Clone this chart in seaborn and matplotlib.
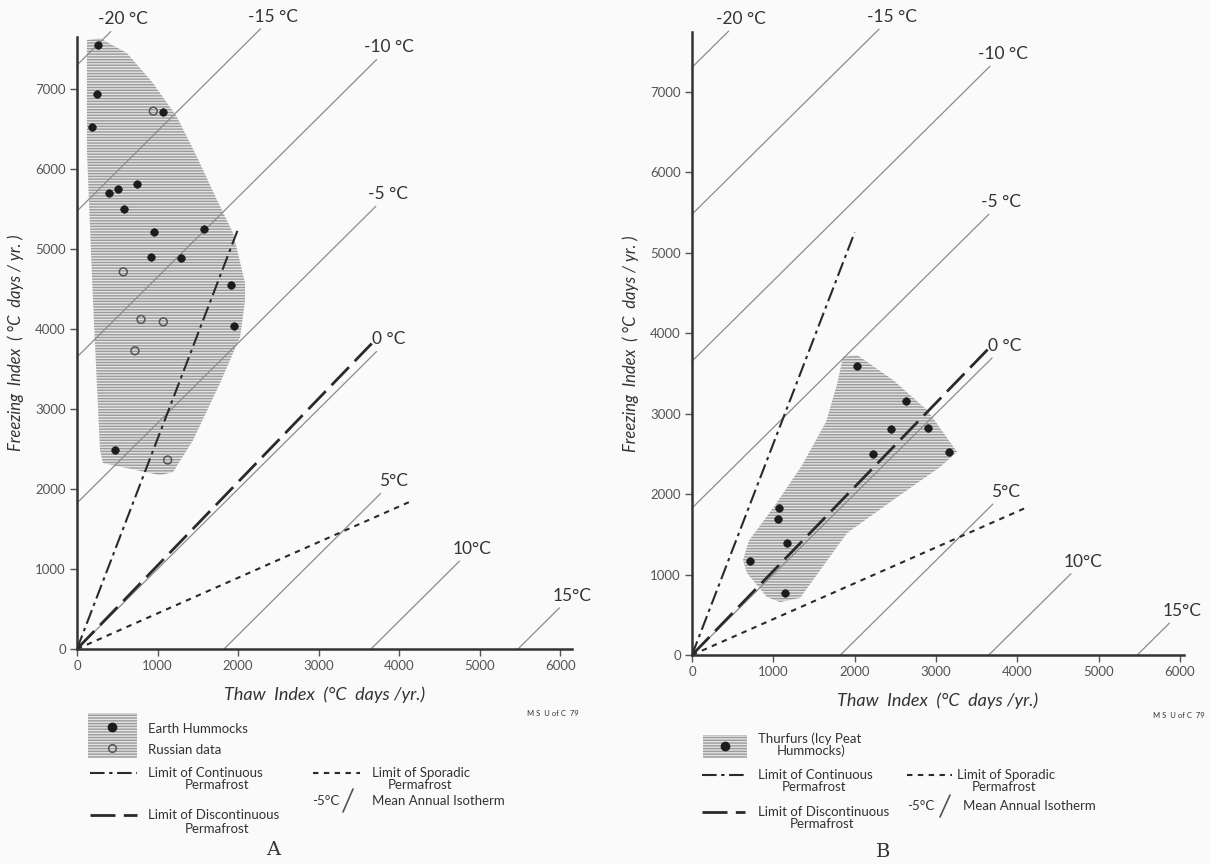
import numpy as np
import pandas as pd
import seaborn as sns
import matplotlib.pyplot as plt
from matplotlib.lines import Line2D
from matplotlib.patches import Rectangle

# Panel A: earth hummocks (filled) and russian data (open)
hum_thaw = [257, 245, 183, 1072, 401, 505, 741, 588, 957, 1582, 919, 1292, 1917, 1946, 472]
hum_freeze = [7550, 6934, 6521, 6716, 5696, 5746, 5812, 5500, 5212, 5250, 4896, 4884, 4554, 4037, 2488]
rus_thaw = [948, 575, 795, 1072, 720, 1126]
rus_freeze = [6725, 4716, 4121, 4091, 3729, 2363]
hull_a_thaw = [124, 286, 621, 944, 1242, 1491, 1739, 1938, 2087, 2087, 2025, 1776, 1441, 1193, 1031, 323, 286, 199, 124]
hull_a_freeze = [7612, 7637, 7450, 7075, 6650, 6150, 5612, 5200, 4575, 4362, 3900, 3325, 2612, 2212, 2175, 2325, 2487, 4362, 6237]

# Panel B: thufurs
thu_thaw = [2025, 2628, 2452, 2899, 2230, 3165, 1074, 1062, 1168, 713, 1148]
thu_freeze = [3594, 3159, 2804, 2824, 2497, 2518, 1830, 1686, 1387, 1172, 770]
hull_b_thaw = [1857, 2030, 2472, 2891, 3260, 3050, 2472, 1907, 1328, 1082, 922, 676, 627, 700, 1000, 1350, 1650, 1780]
hull_b_freeze = [3702, 3727, 3416, 3043, 2522, 2335, 1925, 1516, 708, 658, 720, 1019, 1180, 1420, 1830, 2350, 2900, 3350]

# mean annual isotherms: F = T - 365*temp
iso_temps = [-20, -15, -10, -5, 0, 5, 10, 15]
iso_labels = ['-20 °C', '-15 °C', '-10 °C', '-5 °C', '0 °C', '5°C', '10°C', '15°C']
iso_end_a = [420, 2280, 3720, 3710, 3720, 3770, 4750, 5990]
iso_end_b = [450, 2300, 3665, 3650, 3690, 3700, 4660, 5870]

# permafrost limits (lines from the origin)
cont_thaw, cont_freeze = [0, 2000], [0, 5250]
disc_thaw, disc_freeze = [0, 3660], [0, 3820]
spor_thaw, spor_freeze = [0, 4130], [0, 1840]

sns.set_style('white')
plt.rcParams['font.family'] = ['Lato', 'DejaVu Sans']
TXT = '#333333'
BG = '#fafafa'

fig = plt.figure(figsize=(12.1, 8.64), dpi=100, facecolor=BG)
ax_a = fig.add_axes([0.0636, 0.2488, 0.4094, 0.7082])
ax_b = fig.add_axes([0.5719, 0.2419, 0.4066, 0.7211])

cont_ls = (0, (7, 2.2, 1.6, 2.2))
disc_ls = (0, (9, 3))
spor_ls = (0, (2.6, 2.6))


def panel(ax, xmax, ymax, hull_t, hull_f, iso_end):
    ax.set_facecolor(BG)
    ax.fill(hull_t, hull_f, facecolor='#e4e4e4', edgecolor='#9a9a9a', lw=0,
            hatch='------', zorder=1)
    for t, end, lab in zip(iso_temps, iso_end, iso_labels):
        th = [max(0, 365 * t), end]
        fi = [v - 365 * t for v in th]
        sns.lineplot(x=th, y=fi, ax=ax, color='#8c8c8c', lw=0.9, sort=False,
                     estimator=None, clip_on=False, zorder=2)
        ax.annotate(lab, (th[1], fi[1]), xytext=(9, 3), textcoords='offset points',
                    ha='center', va='bottom', fontsize=12.5, color=TXT,
                    annotation_clip=False)
    sns.lineplot(x=cont_thaw, y=cont_freeze, ax=ax, color='#2a2a2a', lw=1.5,
                 linestyle=cont_ls, sort=False, estimator=None, zorder=3)
    sns.lineplot(x=disc_thaw, y=disc_freeze, ax=ax, color='#2a2a2a', lw=2.0,
                 linestyle=disc_ls, sort=False, estimator=None, zorder=3)
    sns.lineplot(x=spor_thaw, y=spor_freeze, ax=ax, color='#2a2a2a', lw=1.5,
                 linestyle=spor_ls, sort=False, estimator=None, zorder=3)
    ax.set_xlim(0, xmax)
    ax.set_ylim(0, ymax)
    ax.set_xticks(range(0, 6001, 1000))
    ax.set_yticks(range(0, 7001, 1000))
    ax.tick_params(direction='out', length=5, width=1, colors='#555555',
                   labelsize=9.5, pad=3, left=True, bottom=True)
    for s in ['top', 'right']:
        ax.spines[s].set_visible(False)
    for s in ['left', 'bottom']:
        ax.spines[s].set_color('#333333')
        ax.spines[s].set_linewidth(1.8)
    ax.set_xlabel('Thaw  Index  (°C  days /yr.)', fontsize=13, style='italic',
                  color=TXT, labelpad=10)
    ax.set_ylabel('Freezing  Index  ( °C  days / yr. )', fontsize=12, style='italic',
                  color=TXT, labelpad=8)


panel(ax_a, 6150, 7650, hull_a_thaw, hull_a_freeze, iso_end_a)
sns.scatterplot(x=hum_thaw, y=hum_freeze, ax=ax_a, color='#1c1c1c', s=30,
                edgecolor='#1c1c1c', zorder=5, clip_on=False)
sns.scatterplot(x=rus_thaw, y=rus_freeze, ax=ax_a, color='#555555', s=32,
                facecolors='none', edgecolor='#555555', linewidth=1.1, zorder=5)

panel(ax_b, 6050, 7740, hull_b_thaw, hull_b_freeze, iso_end_b)
sns.scatterplot(x=thu_thaw, y=thu_freeze, ax=ax_b, color='#1c1c1c', s=30,
                edgecolor='#1c1c1c', zorder=5)


# ---- legends drawn in figure pixels ----
def fx(x):
    return x / 1210


def fy(y):
    return 1 - y / 864


def sample(x0, x1, y, ls, lw):
    fig.add_artist(Line2D([fx(x0), fx(x1)], [fy(y), fy(y)], color='#2a2a2a',
                          lw=lw, linestyle=ls, transform=fig.transFigure))


def label(x, y, s, size=9.5, ha='left'):
    fig.text(fx(x), fy(y), s, fontsize=size, color=TXT, ha=ha, va='center')


# panel A legend
fig.add_artist(Rectangle((fx(88), fy(758)), fx(137) - fx(88), fy(713) - fy(758),
                         facecolor='#e4e4e4', edgecolor='#9a9a9a', lw=0,
                         hatch='------', transform=fig.transFigure))
fig.add_artist(Line2D([fx(112)], [fy(727)], marker='o', ms=6, color='#1c1c1c',
                      lw=0, transform=fig.transFigure))
fig.add_artist(Line2D([fx(112)], [fy(748)], marker='o', ms=5.5, mfc='none',
                      mec='#555555', mew=1.1, lw=0, transform=fig.transFigure))
label(148, 729, 'Earth Hummocks')
label(148, 750, 'Russian data')
sample(90, 137, 773, cont_ls, 1.5)
label(148, 773, 'Limit of Continuous')
label(185, 785, 'Permafrost')
sample(90, 137, 815, disc_ls, 2.0)
label(148, 815, 'Limit of Discontinuous')
label(185, 829, 'Permafrost')
sample(313, 360, 773, spor_ls, 1.5)
label(372, 773, 'Limit of Sporadic')
label(388, 785, 'Permafrost')
label(312, 801, '-5°C')
fig.add_artist(Line2D([fx(353), fx(343)], [fy(789), fy(812)], color='#555555',
                      lw=1.2, transform=fig.transFigure))
label(372, 801, 'Mean Annual Isotherm')
label(527, 714, 'M S  U of C  79', size=5.5)
fig.text(fx(273), fy(850), 'A', fontsize=14, color=TXT, ha='center', va='center',
         family='DejaVu Serif')

# panel B legend
fig.add_artist(Rectangle((fx(703), fy(758)), fx(747) - fx(703), fy(735) - fy(758),
                         facecolor='#e4e4e4', edgecolor='#9a9a9a', lw=0,
                         hatch='------', transform=fig.transFigure))
fig.add_artist(Line2D([fx(725)], [fy(746)], marker='o', ms=6, color='#1c1c1c',
                      lw=0, transform=fig.transFigure))
label(758, 739, 'Thurfurs (Icy Peat')
label(777, 751, 'Hummocks)')
sample(702, 745, 775, cont_ls, 1.5)
label(758, 775, 'Limit of Continuous')
label(782, 787, 'Permafrost')
sample(702, 745, 812, disc_ls, 2.0)
label(758, 812, 'Limit of Discontinuous')
label(790, 824, 'Permafrost')
sample(907, 952, 775, spor_ls, 1.5)
label(957, 775, 'Limit of Sporadic')
label(972, 787, 'Permafrost')
label(907, 806, '-5°C')
fig.add_artist(Line2D([fx(950), fx(940)], [fy(795), fy(817)], color='#555555',
                      lw=1.2, transform=fig.transFigure))
label(963, 806, 'Mean Annual Isotherm')
label(1205, 715, 'M S  U of C  79', size=5.5, ha='right')
fig.text(fx(883), fy(852), 'B', fontsize=14, color=TXT, ha='center', va='center',
         family='DejaVu Serif')

fig.savefig('out.png', dpi=100, facecolor=BG)
